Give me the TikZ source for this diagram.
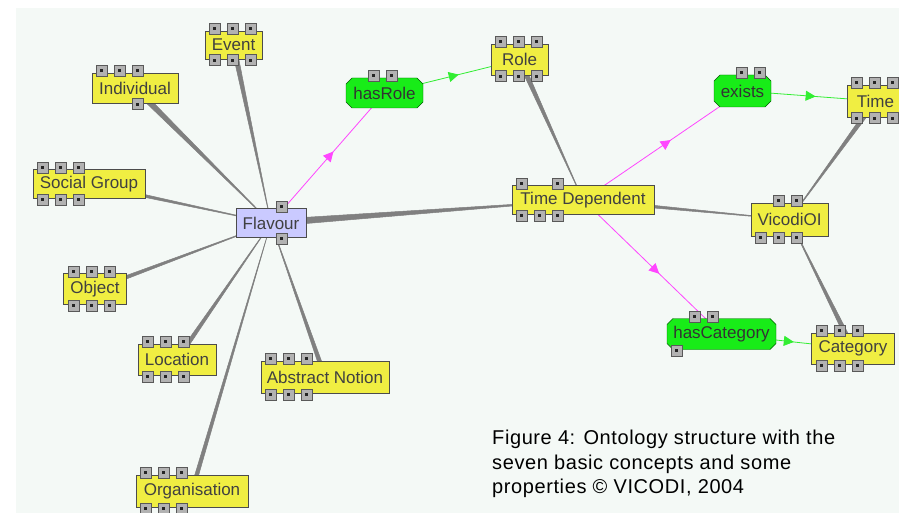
\documentclass[tikz,border=0pt]{standalone}
\usepackage{fontspec}
\setmainfont{Liberation Sans}
\newfontfamily\capfont[LetterSpace=3]{Liberation Sans}
\usetikzlibrary{arrows.meta, calc, shapes.misc, backgrounds, decorations.markings}

\definecolor{canvas}{RGB}{244,249,246}
\definecolor{conceptyellow}{RGB}{240,238,66}
\definecolor{rootblue}{RGB}{202,202,255}
\definecolor{relgreen}{RGB}{24,236,24}
\definecolor{edgegray}{RGB}{128,128,128}
\definecolor{domainmag}{RGB}{255,70,255}
\definecolor{rangegreen}{RGB}{50,238,50}

\begin{document}
\begin{tikzpicture}[
    x=1pt, y=-1pt,
    concept/.style={rectangle, draw=black!70, fill=conceptyellow, minimum height=30pt, inner sep=1pt, font=\fontsize{17}{18}\selectfont, text=black!75},
    root/.style={concept, fill=rootblue},
    relation/.style={chamfered rectangle, chamfered rectangle xsep=3pt, chamfered rectangle ysep=3pt, draw=green!35!black, fill=relgreen, minimum height=30pt, inner sep=1pt, font=\fontsize{17}{18}\selectfont, text=black!80},
    btn/.style={rectangle, draw=black!65, fill=black!30, minimum size=11pt, inner sep=0pt, path picture={\fill[black!85] ([xshift=-1.5pt, yshift=-1.5pt]path picture bounding box.center) rectangle ++(3pt,3pt);}},
    taper/.style={to path={($(\tikztostart)!#1!90:(\tikztotarget)$) -- ($(\tikztostart)!#1!-90:(\tikztotarget)$) -- (\tikztotarget) -- cycle}},
    taper/.default=2.5pt,
    link/.style={fill=edgegray, draw=edgegray, line width=0.5pt},
    domainprop/.style={draw=domainmag, line width=0.8pt, decoration={markings, mark=at position 0.55 with {\arrow{Triangle[length=10pt, width=10pt]}}}, postaction={decorate}},
    rangeprop/.style={domainprop, draw=rangegreen},
    caption/.style={inner sep=0pt, align=left, font=\capfont\fontsize{20}{24.5}\selectfont}
]
\useasboundingbox (0,0) rectangle (899,513);
\clip (0,0) rectangle (899,513);

% Concepts around Flavour
\node[concept, minimum width=57pt, minimum height=28pt] (event) at (233.5,45) {Event};
\node[concept, minimum width=86pt] (indiv) at (135,88) {Individual};
\node[concept, minimum width=112pt, minimum height=29pt] (social) at (89,184) {Social Group};
\node[root, minimum width=70pt, minimum height=29pt] (flavour) at (271,223) {Flavour};
\node[concept, minimum width=63pt, minimum height=31pt] (object) at (95,289) {Object};
\node[concept, minimum width=78pt, minimum height=31pt] (location) at (177,359.5) {Location};
\node[concept, minimum width=128pt, minimum height=32pt] (abstract) at (325,377) {Abstract Notion};
\node[concept, minimum width=112pt, minimum height=32pt] (organisation) at (192,491) {Organisation};

% Time dependent part
\node[relation, minimum width=77pt] (hasrole) at (384.5,93) {hasRole};
\node[concept, minimum width=57pt, minimum height=31pt] (role) at (519.5,59.5) {Role};
\node[concept, minimum width=142pt, minimum height=29pt] (timedep) at (583,200) {Time Dependent};
\node[relation, minimum width=57pt, minimum height=32pt] (exists) at (742.5,91) {exists};
\node[concept, minimum width=57pt, minimum height=32pt] (time) at (875.5,101) {Time};
\node[concept, minimum width=77pt, minimum height=33pt] (vicodi) at (789.5,219.5) {VicodiOI};
\node[relation, minimum width=109pt, minimum height=31pt] (hascat) at (721.5,334) {hasCategory};
\node[concept, minimum width=83pt, minimum height=31pt] (category) at (853,348.5) {Category};

% Buttons
\foreach \nd/\sl in {event/1, event/2, event/3, indiv/1, indiv/2, indiv/3, social/1, social/2, social/3, flavour/3,
    object/1, object/2, object/3, location/1, location/2, location/3, abstract/1, abstract/2, abstract/3,
    organisation/1, organisation/2, organisation/3, hasrole/2, hasrole/3, role/1, role/2, role/3,
    timedep/1, timedep/3, exists/2, exists/3, time/1, time/2, time/3, vicodi/2, vicodi/3,
    hascat/2, hascat/3, category/1, category/2, category/3}
  \node[btn] (tb-\nd-\sl) at ($(\nd.west |- \nd.north)+(\sl*18-8,-2)$) {};
\foreach \nd/\sl in {event/1, event/2, event/3, indiv/3, social/1, social/2, social/3, flavour/3,
    object/1, object/2, object/3, location/1, location/2, location/3, abstract/1, abstract/2, abstract/3,
    organisation/1, organisation/2, organisation/3, role/1, role/2, role/3,
    timedep/1, timedep/2, timedep/3, time/1, time/2, time/3, vicodi/1, vicodi/2, vicodi/3,
    hascat/1, category/1, category/2, category/3}
  \node[btn] (bb-\nd-\sl) at ($(\nd.west |- \nd.south)+(\sl*18-8,1)$) {};

% Caption
\node[caption, anchor=north west] (caption) at (492,430) {Figure 4: Ontology structure with the\\seven basic concepts and some\\properties © VICODI, 2004};

\begin{pgfonlayer}{background}
\fill[white] (0,0) rectangle (899,513);
\fill[canvas] (16,8) rectangle (899,513);

% Subclass links
\path[link] (event.center) to[taper=2.5pt] (flavour.center);
\path[link] (indiv.center) to[taper=3pt] (flavour.center);
\path[link] (social.center) to[taper=2pt] (flavour.center);
\path[link] (object.center) to[taper=2pt] (flavour.center);
\path[link] (location.center) to[taper=2.2pt] (flavour.center);
\path[link] (organisation.center) to[taper=2pt] (flavour.center);
\path[link] (abstract.center) to[taper=2.2pt] (flavour.center);
\path[link] (flavour.center) to[taper=3.5pt] (timedep.center);
\path[link] (role.center) to[taper=2.5pt] (timedep.center);
\path[link] (timedep.center) to[taper=2pt] (vicodi.center);
\path[link] (time.center) to[taper=2.5pt] (vicodi.center);
\path[link] (category.center) to[taper=2.5pt] (vicodi.center);

% Properties
\draw[domainprop] (flavour.center) -- (hasrole.center);
\draw[rangeprop] (hasrole.center) -- (role.center);
\draw[domainprop] (timedep.center) -- (exists.center);
\draw[rangeprop] (exists.center) -- (time.center);
\draw[domainprop] (timedep.center) -- (hascat.center);
\draw[rangeprop] (hascat.center) -- (category.center);
\end{pgfonlayer}

\end{tikzpicture}
\end{document}
